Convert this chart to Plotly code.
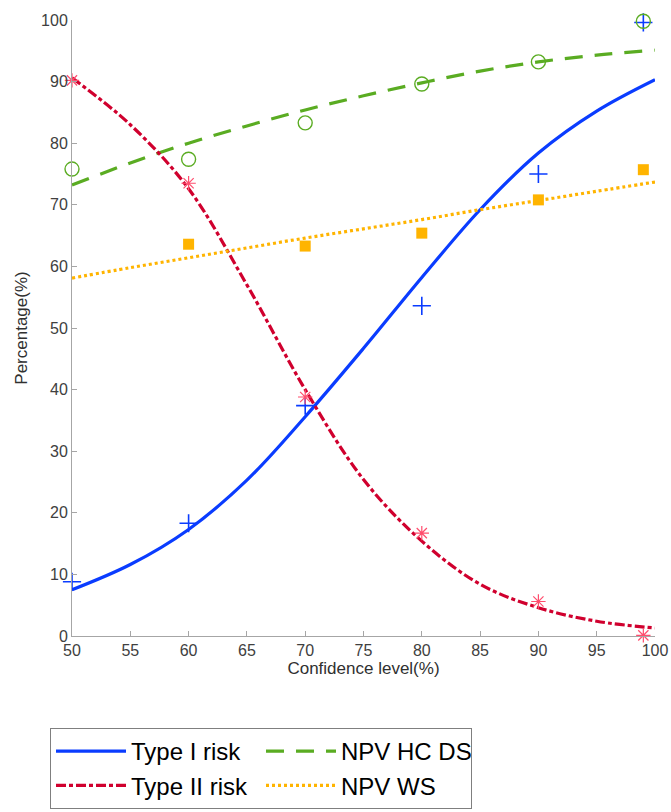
import plotly.graph_objects as go

# ---- data ----
conf_pts = [50, 60, 70, 80, 90, 99]
type1_pts = [8.8, 18.3, 37.4, 53.6, 75.0, 99.6]
type2_pts = [90.2, 73.5, 38.8, 16.7, 5.6, 0.1]
hcds_pts = [75.8, 77.4, 83.3, 89.6, 93.2, 99.8]
ws_conf = [60, 70, 80, 90, 99]
ws_pts = [63.6, 63.3, 65.4, 70.8, 75.7]

conf_fit = [50, 55, 60, 65, 70, 75, 80, 85, 90, 95, 100]
type1_fit = [7.5, 11.6, 17.3, 25.3, 35.6, 46.7, 58.2, 69.2, 78.4, 85.2, 90.3]
type2_fit = [90.6, 83.0, 72.6, 57.0, 40.0, 25.4, 15.4, 8.4, 4.6, 2.4, 1.3]
hcds_fit = [73.2, 76.8, 80.0, 82.8, 85.4, 87.7, 89.8, 91.7, 93.2, 94.3, 95.1]
ws_fit = [58.1, 59.8, 61.4, 63.0, 64.6, 66.1, 67.6, 69.2, 70.7, 72.2, 73.7]

BLUE = "#0a3cff"
RED = "#d0002e"
RED_MK = "#ff4d6d"
GREEN = "#5aac22"
ORANGE = "#ffb400"
FONT = "Liberation Sans, Arial, sans-serif"

fig = go.Figure()

fig.add_trace(go.Scatter(x=conf_fit, y=type1_fit, mode="lines", name="Type I risk",
                         line=dict(color=BLUE, width=3.2, shape="spline")))
fig.add_trace(go.Scatter(x=conf_fit, y=hcds_fit, mode="lines", name="NPV HC DS",
                         line=dict(color=GREEN, width=3.2, shape="spline", dash="18px,12px")))
fig.add_trace(go.Scatter(x=conf_fit, y=type2_fit, mode="lines", name="Type II risk",
                         line=dict(color=RED, width=3.2, shape="spline", dash="10px,3px,4px,3px")))
fig.add_trace(go.Scatter(x=conf_fit, y=ws_fit, mode="lines", name="NPV WS",
                         line=dict(color=ORANGE, width=3.2, shape="spline", dash="3px,3px")))

fig.add_trace(go.Scatter(x=conf_pts, y=type1_pts, mode="markers", showlegend=False, cliponaxis=False,
                         marker=dict(symbol="cross-thin-open", size=13, color=BLUE, line=dict(width=1.6, color=BLUE))))
fig.add_trace(go.Scatter(x=conf_pts, y=type2_pts, mode="markers", showlegend=False, cliponaxis=False,
                         marker=dict(symbol="asterisk-open", size=12, color=RED_MK, line=dict(width=1.2, color=RED_MK))))
fig.add_trace(go.Scatter(x=conf_pts, y=hcds_pts, mode="markers", showlegend=False, cliponaxis=False,
                         marker=dict(symbol="circle-open", size=14, color=GREEN, line=dict(width=1.4, color=GREEN))))
fig.add_trace(go.Scatter(x=ws_conf, y=ws_pts, mode="markers", showlegend=False, cliponaxis=False,
                         marker=dict(symbol="square", size=11, color=ORANGE, line=dict(width=0))))

axis_common = dict(showgrid=False, zeroline=False, showline=True, linecolor="#a6a6a6", linewidth=1,
                   ticks="inside", ticklen=5, tickcolor="#a6a6a6", tickwidth=1, automargin=False,
                   tickfont=dict(family=FONT, size=16, color="#404040"), mirror=False)

fig.update_xaxes(range=[50, 100], tickvals=list(range(50, 101, 5)),
                 title=dict(text="Confidence level(%)", font=dict(family=FONT, size=17, color="#303030"), standoff=0),
                 **axis_common)
fig.update_yaxes(range=[0, 100], tickvals=list(range(0, 101, 10)),
                 title=dict(text="Percentage(%)", font=dict(family=FONT, size=17, color="#303030"), standoff=9),
                 **axis_common)

fig.update_layout(
    width=671, height=812,
    margin=dict(l=72, r=16, t=20, b=176),
    paper_bgcolor="white", plot_bgcolor="white",
    font=dict(family=FONT),
    legend=dict(orientation="h", xref="container", yref="container",
                x=50 / 671, xanchor="left", y=(812 - 728) / 812, yanchor="top",
                font=dict(family=FONT, size=24, color="#000000"),
                bordercolor="#7f7f7f", borderwidth=1, bgcolor="white",
                itemwidth=70, entrywidth=125, entrywidthmode="pixels",
                tracegroupgap=0, traceorder="normal"),
)

fig.write_html("out.html")
